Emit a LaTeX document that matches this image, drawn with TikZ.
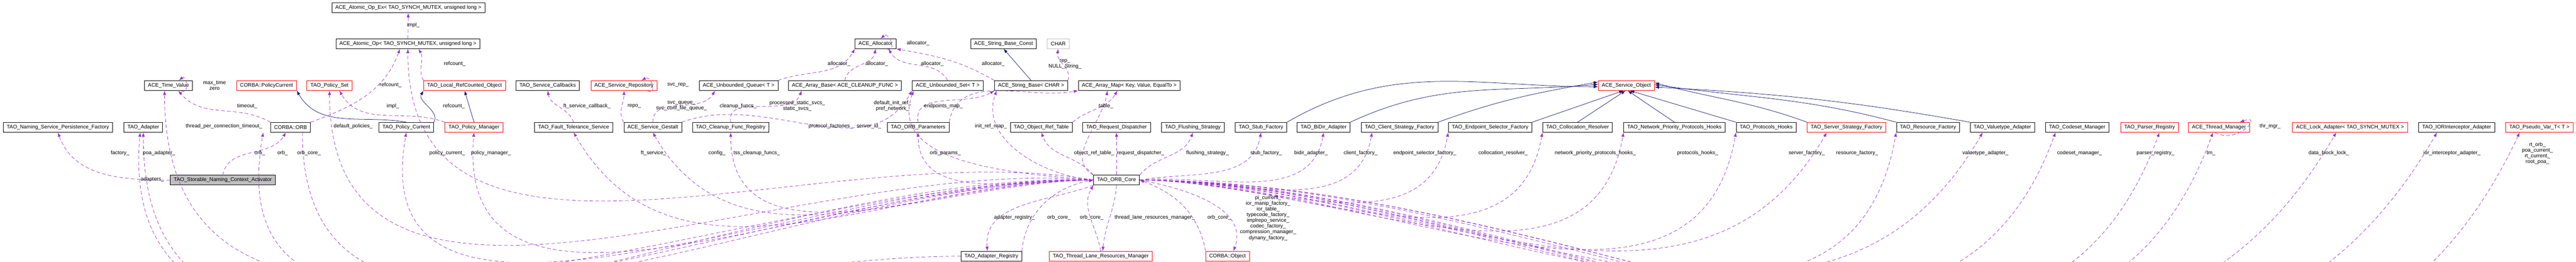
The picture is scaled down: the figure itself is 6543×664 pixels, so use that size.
\documentclass[tikz,border=0pt]{standalone}
\usepackage{fontspec}
\setmainfont{Liberation Sans}
\usetikzlibrary{arrows.meta}
\definecolor{usecol}{HTML}{9A32CD}
\definecolor{inhcol}{HTML}{191970}
\tikzset{
  box/.style={draw,line width=0.1pt,rectangle,fill=white,inner xsep=0.9pt,inner ysep=0.3pt,minimum height=2.5pt,
    font=\fontsize{1.33}{1.45}\selectfont},
  redbox/.style={box,draw=red},
  lbl/.style={font=\fontsize{1.33}{1.45}\selectfont,align=center,inner sep=0pt},
  use/.style={draw=usecol,line width=0.1pt,dash pattern=on 0.9pt off 0.6pt,-{Latex[length=1.1pt,width=0.8pt]}},
  inh/.style={draw=inhcol,line width=0.1pt,-{Latex[length=1.1pt,width=0.8pt]}},
}
\begin{document}
\begin{tikzpicture}[x=0.1pt,y=-0.1pt]
  \useasboundingbox (0,0) rectangle (6543,664);
  % classes
  \begin{scope}
    \node[box] (aopx) at (1037,20) {ACE\_Atomic\_Op\_Ex< TAO\_SYNCH\_MUTEX, unsigned long >};
    \node[box] (aop) at (1036,111) {ACE\_Atomic\_Op< TAO\_SYNCH\_MUTEX, unsigned long >};
    \node[box] (alloc) at (2224,111) {ACE\_Allocator};
    \node[box] (sbc) at (2549,111) {ACE\_String\_Base\_Const};
    \node[box,draw=black!25] (char) at (2688,111) {CHAR};
    \node[box] (tv) at (428,217) {ACE\_Time\_Value};
    \node[redbox] (pcur) at (677,217) {CORBA::PolicyCurrent};
    \node[redbox] (pset) at (837,217) {TAO\_Policy\_Set};
    \node[redbox] (lrc) at (1180,217) {TAO\_Local\_RefCounted\_Object};
    \node[box] (scb) at (1391,217) {TAO\_Service\_Callbacks};
    \node[redbox] (srep) at (1585,217) {ACE\_Service\_Repository};
    \node[box] (uq) at (1876,217) {ACE\_Unbounded\_Queue< T >};
    \node[box] (abase) at (2146,217) {ACE\_Array\_Base< ACE\_CLEANUP\_FUNC >};
    \node[box] (uset) at (2407,217) {ACE\_Unbounded\_Set< T >};
    \node[box] (sbase) at (2619,217) {ACE\_String\_Base< CHAR >};
    \node[box] (amap) at (2868,217) {ACE\_Array\_Map< Key, Value, EqualTo >};
    \node[redbox] (sobj) at (4131,217) {ACE\_Service\_Object};
    \node[box] (nspf) at (147,323) {TAO\_Naming\_Service\_Persistence\_Factory};
    \node[box] (adapt) at (364,323) {TAO\_Adapter};
    \node[box] (orb) at (738,323) {CORBA::ORB};
    \node[box] (polcur) at (1032,323) {TAO\_Policy\_Current};
    \node[redbox] (polmgr) at (1204,323) {TAO\_Policy\_Manager};
    \node[box] (fts) at (1457,323) {TAO\_Fault\_Tolerance\_Service};
    \node[box] (gest) at (1658,323) {ACE\_Service\_Gestalt};
    \node[box] (cfr) at (1856,323) {TAO\_Cleanup\_Func\_Registry};
    \node[box] (orbp) at (2332,323) {TAO\_ORB\_Parameters};
    \node[box] (ort) at (2645,323) {TAO\_Object\_Ref\_Table};
    \node[box] (rd) at (2836,323) {TAO\_Request\_Dispatcher};
    \node[box] (fs) at (3030,323) {TAO\_Flushing\_Strategy};
    \node[box] (stub) at (3203,323) {TAO\_Stub\_Factory};
    \node[box] (bidir) at (3362,323) {TAO\_BiDir\_Adapter};
    \node[box] (csf) at (3555,323) {TAO\_Client\_Strategy\_Factory};
    \node[box] (esf) at (3785,323) {TAO\_Endpoint\_Selector\_Factory};
    \node[box] (colr) at (4007,323) {TAO\_Collocation\_Resolver};
    \node[box] (nph) at (4253,323) {TAO\_Network\_Priority\_Protocols\_Hooks};
    \node[box] (ph) at (4486,323) {TAO\_Protocols\_Hooks};
    \node[redbox] (ssf) at (4690,323) {TAO\_Server\_Strategy\_Factory};
    \node[box] (rf) at (4897,323) {TAO\_Resource\_Factory};
    \node[box] (vta) at (5086,323) {TAO\_Valuetype\_Adapter};
    \node[box] (csm) at (5276,323) {TAO\_Codeset\_Manager};
    \node[redbox] (preg) at (5460,323) {TAO\_Parser\_Registry};
    \node[redbox] (thr) at (5636,323) {ACE\_Thread\_Manager};
    \node[redbox] (lock) at (5969,323) {ACE\_Lock\_Adapter< TAO\_SYNCH\_MUTEX >};
    \node[box] (iori) at (6240,323) {TAO\_IORInterceptor\_Adapter};
    \node[redbox] (pvar) at (6450,323) {TAO\_Pseudo\_Var\_T< T >};
    \node[box,fill=black!25] (act) at (566,457) {TAO\_Storable\_Naming\_Context\_Activator};
    \node[box] (core) at (2836,457) {TAO\_ORB\_Core};
    \node[box] (areg) at (2518,650) {TAO\_Adapter\_Registry};
    \node[redbox] (tlrm) at (2796,650) {TAO\_Thread\_Lane\_Resources\_Manager};
    \node[redbox] (cobj) at (3118,650) {CORBA::Object};
  \end{scope}
  % inheritance
  \begin{scope}[every edge/.style={inh}]
    \path (polcur.north) edge[out=170,in=-60] (pcur.south east);
    \path (polcur.north east) edge[out=60,in=-120] (lrc.south west);
    \path (polmgr.north) edge (lrc.south);
    \path (sbase.north) edge (sbc.south);
    \path (stub.north east) edge[out=30,in=180] ([yshift=-0.3pt]sobj.west);
    \path (bidir.north east) edge[out=25,in=185] ([yshift=0.3pt]sobj.west);
    \path (csf.north east) edge[out=20,in=190] ([yshift=0.9pt]sobj.west);
    \path (esf.north east) edge (sobj.-120);
    \path (colr.north) edge (sobj.-100);
    \path (nph.north) edge (sobj.-75);
    \path (ph.north west) edge (sobj.-55);
    \path (ssf.north west) edge[out=160,in=-15] ([yshift=0.7pt]sobj.east);
    \path (rf.north west) edge[out=165,in=-8] ([yshift=0.2pt]sobj.east);
    \path (vta.north west) edge[out=170,in=-3] ([yshift=-0.4pt]sobj.east);
  \end{scope}
  % usage
  \begin{scope}[every edge/.style={use}]
    \path (aop.north) edge (aopx.south);
    \path (orb.north east) edge[out=20,in=-110] ([xshift=-2pt]aop.south);
    \path (core.west) edge[out=170,in=-90] (aop.south);
    \path (lrc.north west) edge[out=120,in=-60] ([xshift=2.7pt]aop.south);
    \path (orb.north west) edge[out=150,in=-50] ([xshift=2.5pt]tv.south);
    \path (core.west) edge[out=180,in=-90] ([xshift=-1pt]tv.south);
    \path ([xshift=-3pt]tv.south east) edge[out=-30,in=40,looseness=2.5] ([xshift=-3.5pt]tv.north east);
    \path (core.west) edge[out=175,in=-90] (pset.south);
    \path (polmgr.north west) edge[out=160,in=-60] ([xshift=2.5pt]pset.south);
    \path (act.west) edge[out=180,in=-70] (nspf.south);
    \path (core.west) edge[out=178,in=-90] (adapt.south);
    \path (areg.west) edge[out=180,in=-95] ([xshift=-0.8pt]adapt.south);
    \path (act.north) edge[out=80,in=-120] ([xshift=-1.2pt]orb.south);
    \path (core.west) edge[out=180,in=-100] ([xshift=-1.8pt]orb.south west);
    \path ([xshift=3pt]orb.south) edge[out=-90,in=180] (core.west);
    \path (core.west) edge[out=178,in=-100] (polcur.south);
    \path (core.west) edge[out=178,in=-95] (polmgr.south);
    \path (fts.north) edge[out=110,in=-80] (scb.south);
    \path (gest.north west) edge[out=120,in=-90] (srep.south);
    \path ([xshift=-2.5pt]srep.south east) edge[out=-30,in=30,looseness=2.5] ([xshift=-4pt]srep.north east);
    \path (gest.north) edge[out=90,in=-120] ([xshift=-6pt]uq.south);
    \path (cfr.north) edge[out=100,in=-110] ([xshift=-11pt]abase.south);
    \path (gest.north east) edge[out=20,in=-120] (uset.south west);
    \path (core.west) edge[out=175,in=-110] ([xshift=0.4pt]uset.south west);
    \path (uq.north east) edge[out=20,in=-120] (alloc.south west);
    \path (abase.north) edge[out=80,in=-100] (alloc.south);
    \path (uset.north) edge[out=120,in=-60] ([xshift=-2pt]alloc.south east);
    \path (sbase.north west) edge[out=150,in=-10] (alloc.south east);
    \path ([xshift=-2.5pt]alloc.south east) edge[out=-20,in=40,looseness=2.5] ([xshift=-4pt]alloc.north east);
    \path (sbase.north east) edge[out=70,in=-100] (char.south);
    \path (orbp.north) edge[out=100,in=-150] (sbase.south west);
    \path (core.west) edge[out=175,in=-110] ([xshift=0.6pt]sbase.south west);
    \path (orbp.north east) edge[out=80,in=-170] (amap.south west);
    \path (core.north west) edge[out=150,in=-100] ([xshift=-5.5pt]amap.south);
    \path (ort.north east) edge[out=40,in=-120] ([xshift=-3pt]amap.south);
    \path (core.west) edge[out=180,in=-90] (orbp.south);
    \path (core.north west) edge[out=130,in=-70] (ort.south);
    \path (core.north) edge (rd.south);
    \path (core.north east) edge[out=50,in=-110] (fs.south);
    \path (core.east) edge[out=10,in=-100] (stub.south);
    \path (core.east) edge[out=5,in=-100] (bidir.south);
    \path (core.east) edge[out=2,in=-100] ([xshift=-7pt]csf.south);
    \path (core.east) edge[out=0,in=-100] (esf.south west);
    \path (core.east) edge[out=0,in=-100] (colr.south west);
    \path (core.east) edge[out=0,in=-100] (nph.south west);
    \path (core.east) edge[out=0,in=-100] (ph.south west);
    \path (core.east) edge[out=0,in=-120] ([xshift=-5pt]ssf.south);
    \path (core.east) edge[out=0,in=-100] (rf.south west);
    \path (core.east) edge[out=0,in=-120] ([xshift=-5pt]vta.south);
    \path (core.east) edge[out=0,in=-110] ([xshift=-5.5pt]csm.south);
    \path (core.east) edge[out=0,in=-110] ([xshift=2.5pt]preg.south);
    \path (core.east) edge[out=0,in=-110] ([xshift=-1.5pt]thr.south);
    \path ([xshift=-1pt]thr.south) edge[out=-30,in=20,looseness=2.5] ([xshift=-2.5pt]thr.north east);
    \path (core.east) edge[out=0,in=-120] ([xshift=-3.5pt]lock.south);
    \path (core.east) edge[out=0,in=-120] ([xshift=-5pt]iori.south);
    \path (core.east) edge[out=0,in=-115] ([xshift=-5pt]pvar.south);
    \path (core.west) edge[out=180,in=-60] (fts.south);
    \path (core.west) edge[out=180,in=-60] (gest.south);
    \path (core.west) edge[out=180,in=-90] (cfr.south);
    \path (core.south west) edge[out=200,in=95] ([xshift=-1pt]areg.north);
    \path (areg.north east) edge[out=85,in=190] (core.west);
    \path (tlrm.north) edge[out=100,in=-120] (core.south west);
    \path (core.south) edge[out=-95,in=85] ([xshift=0.5pt]tlrm.north);
    \path (cobj.north west) edge[out=100,in=-20] (core.east);
    \path (core.east) edge[out=-10,in=70] ([xshift=1.5pt]cobj.north);
  \end{scope}
  % member labels
  \foreach \i/\x/\y/\t in {
      1/1050/64/impl\_, 2/992/216/refcount\_, 3/1155/162/refcount\_, 4/1153/269/refcount\_,
      5/545/216/{max\_time\\zero}, 6/628/269/timeout\_, 7/998/269/impl\_,
      8/569/321/thread\_per\_connection\_timeout\_, 9/897/321/default\_policies\_,
      10/305/389/factory\_, 11/404/389/poa\_adapter\_, 12/660/389/orb\_, 13/718/389/orb\_,
      14/785/389/orb\_core\_, 15/387/455/adapters\_, 16/1136/389/policy\_current\_,
      17/1247/389/policy\_manager\_, 18/1491/269/ft\_service\_callback\_, 19/1722/216/svc\_rep\_,
      20/1611/269/repo\_, 21/1731/269/{svc\_queue\_\\svc\_conf\_file\_queue\_},
      22/1875/269/cleanup\_funcs\_, 23/2025/269/{processed\_static\_svcs\_\\static\_svcs\_},
      24/2131/162/allocator\_, 25/2110/321/protocol\_factories\_, 26/1660/389/ft\_service\_,
      27/1821/389/config\_, 28/1922/389/tss\_cleanup\_funcs\_, 29/2332/110/allocator\_,
      30/2227/162/allocator\_, 31/2368/162/allocator\_, 32/2523/162/allocator\_,
      33/2705/163/{rep\_\\NULL\_String\_}, 34/2267/269/{default\_init\_ref\_\\pref\_network\_},
      35/2396/269/endpoints\_map\_, 36/2207/320/server\_id\_, 37/2517/321/init\_ref\_map\_,
      38/2809/269/table\_, 39/2401/389/orb\_params\_, 40/2779/389/object\_ref\_table\_,
      41/2897/389/request\_dispatcher\_, 42/3067/389/flushing\_strategy\_, 43/3216/389/stub\_factory\_,
      44/3330/389/bidir\_adapter\_, 45/3456/389/client\_factory\_, 46/3619/389/endpoint\_selector\_factory\_,
      47/3818/389/collocation\_resolver\_, 48/4052/389/network\_priority\_protocols\_hooks\_,
      49/4312/389/protocols\_hooks\_, 50/4589/389/server\_factory\_, 51/4717/389/resource\_factory\_,
      52/5043/389/valuetype\_adapter\_, 53/5282/389/codeset\_manager\_, 54/5475/389/parser\_registry\_,
      55/5616/389/tm\_, 56/5766/321/thr\_mgr\_, 57/5915/389/data\_block\_lock\_,
      58/6228/389/ior\_interceptor\_adapter\_, 59/6445/389/{rt\_orb\_\\poa\_current\_\\rt\_current\_\\root\_poa\_},
      60/2577/552/adapter\_registry\_, 61/2690/552/orb\_core\_, 62/2773/552/orb\_core\_,
      63/2933/552/thread\_lane\_resources\_manager\_, 64/3097/552/orb\_core\_,
      65/3221/553/{pi\_current\_\\ior\_manip\_factory\_\\ior\_table\_\\typecode\_factory\_\\implrepo\_service\_\\codec\_factory\_\\compression\_manager\_\\dynany\_factory\_}}
    \node[lbl] (lab\i) at (\x,\y) {\t};
\end{tikzpicture}
\end{document}
